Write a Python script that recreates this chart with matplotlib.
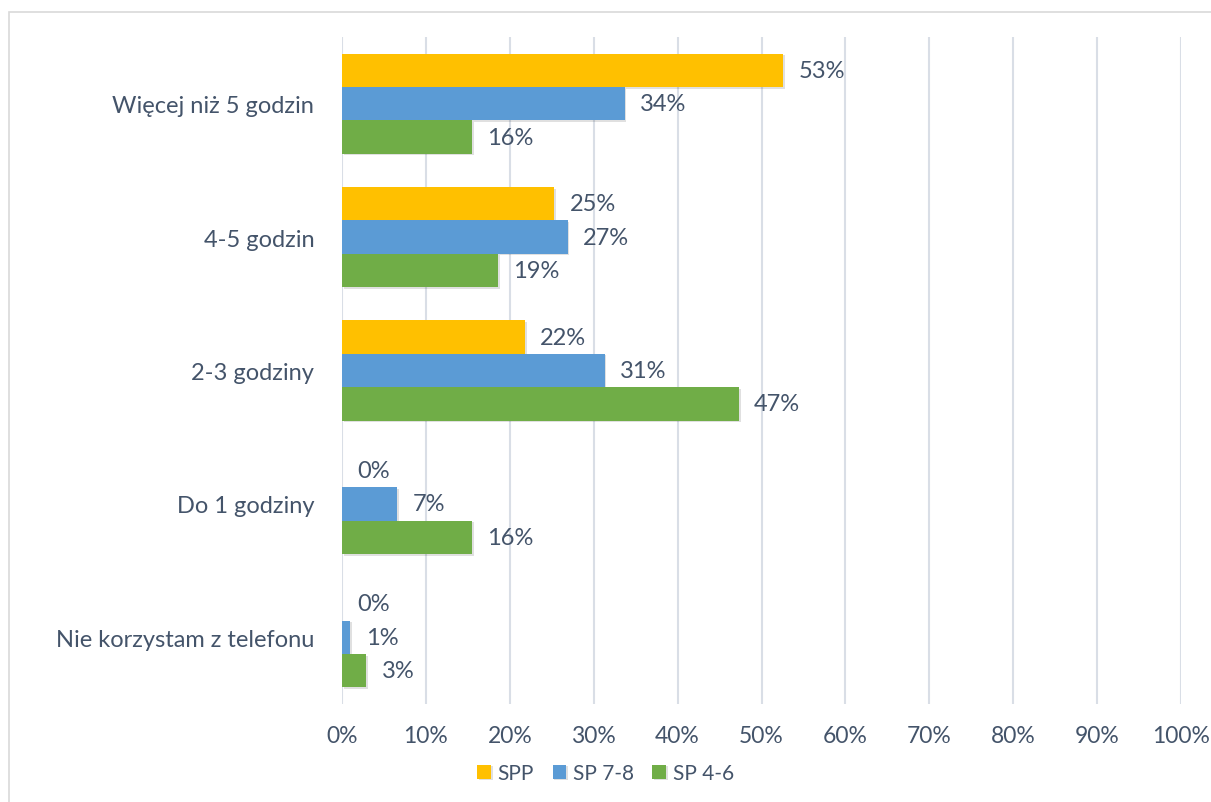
import matplotlib
matplotlib.use("Agg")
import matplotlib.pyplot as plt
from matplotlib import patheffects as pe
from matplotlib.patches import Rectangle
import numpy as np

categories = ["Więcej niż 5 godzin", "4-5 godzin", "2-3 godziny", "Do 1 godziny", "Nie korzystam z telefonu"]
series_names = ["SPP", "SP 7-8", "SP 4-6"]
spp = [52.6, 25.3, 21.8, 0.0, 0.0]
sp78 = [33.7, 26.9, 31.3, 6.6, 1.0]
sp46 = [15.5, 18.6, 47.3, 15.5, 2.9]
xticks = [0, 10, 20, 30, 40, 50, 60, 70, 80, 90, 100]

colors = ["#FFC000", "#5B9BD5", "#70AD47"]
text_color = "#44546A"
grid_color = "#D9DEE6"

plt.rcParams['font.family'] = ['Lato', 'DejaVu Sans']
FS = 17

W, H = 1211, 803
fig = plt.figure(figsize=(W/100, H/100), dpi=100)
ax = fig.add_axes([342/W, 1-705/H, (1181-342)/W, (705-38)/H])

# outer border (top and left visible)
fig.add_artist(Rectangle((9/W, -0.1), 1.2, (1-13/H)+0.1, transform=fig.transFigure,
                         fill=False, edgecolor="#D9D9D9", linewidth=1.2))

n = len(categories)
y = np.arange(n)
bh = 0.25
all_series = [spp, sp78, sp46]
shadow = [pe.SimplePatchShadow(offset=(1.2, -1.2), shadow_rgbFace="#000000", alpha=0.12), pe.Normal()]
for i, (vals, col, name) in enumerate(zip(all_series, colors, series_names)):
    ypos = y + (i - 1) * bh
    bars = ax.barh(ypos, vals, height=bh, color=col, label=name, zorder=3)
    for b in bars:
        if b.get_width() > 0:
            b.set_path_effects(shadow)
    for yy, v in zip(ypos, vals):
        ax.annotate(f"{v:.0f}%", (v, yy), xytext=(11, 0), textcoords="offset points",
                    va="center", ha="left", fontsize=FS, color=text_color, zorder=4)

ax.set_xlim(0, 100)
ax.set_ylim(n - 0.5, -0.5)
ax.set_xticks(xticks)
ax.set_xticklabels([f"{t}%" for t in xticks])
ax.set_yticks(y)
ax.set_yticklabels(categories)
ax.tick_params(axis='both', length=0, labelsize=FS, labelcolor=text_color)
ax.tick_params(axis='x', pad=15, labelsize=16.5)
ax.tick_params(axis='y', pad=20)
ax.xaxis.grid(True, color=grid_color, linewidth=1.5, zorder=0)
ax.set_axisbelow(True)
for s in ax.spines.values():
    s.set_visible(False)

leg = fig.legend(loc="center", bbox_to_anchor=(0.5, 1-774/H), ncol=3, frameon=False,
                 fontsize=15, handlelength=0.67, handleheight=0.67, handletextpad=0.3,
                 columnspacing=0.9, labelcolor=text_color)

fig.savefig("out.png", dpi=100)
